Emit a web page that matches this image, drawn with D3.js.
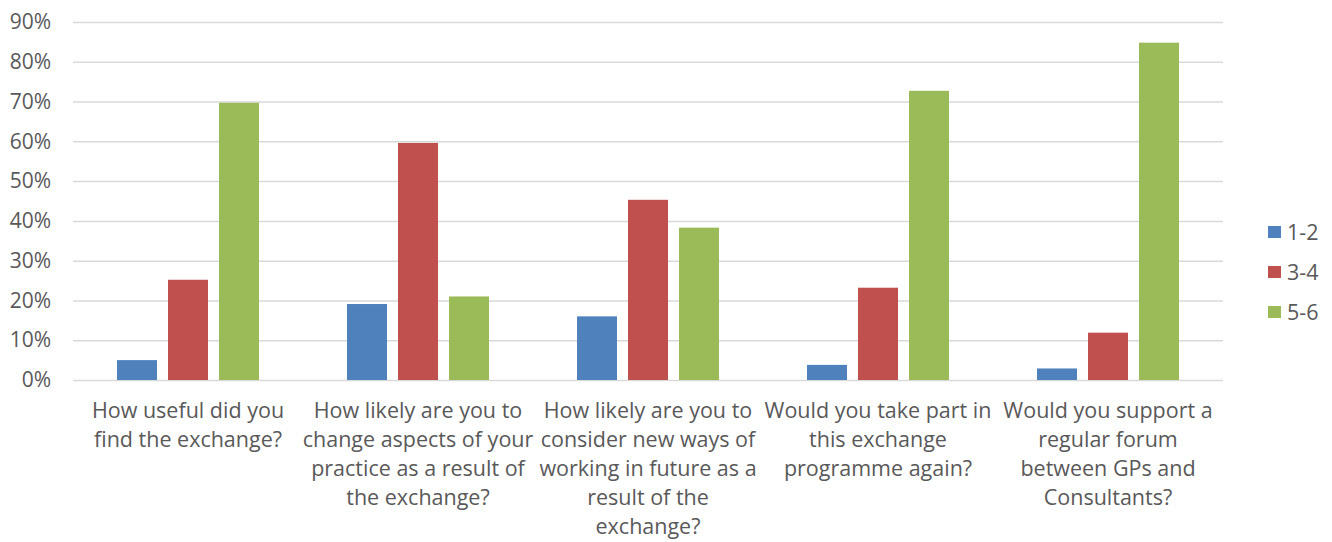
<!DOCTYPE html>
<html>
<head>
<meta charset="utf-8">
<script src="https://cdn.jsdelivr.net/npm/d3@7"></script>
<style>
  body { margin: 0; background: #fff; }
  text { font-family: "Open Sans", Lato, sans-serif; fill: #595959; }
</style>
</head>
<body>
<div id="chart"></div>
<script>
const questions = [
  ['How useful did you', 'find the exchange?'],
  ['How likely are you to', 'change aspects of your', 'practice as a result of', 'the exchange?'],
  ['How likely are you to', 'consider new ways of', 'working in future as a', 'result of the', 'exchange?'],
  ['Would you take part in', 'this exchange', 'programme again?'],
  ['Would you support a', 'regular forum', 'between GPs and', 'Consultants?']
];
const seriesNames = ['1-2', '3-4', '5-6'];
const seriesColors = ['#4f81bd', '#c0504d', '#9bbb59'];
const score12 = [5, 19.1, 16, 3.8, 2.9];
const score34 = [25.2, 59.6, 45.3, 23.2, 11.9];
const score56 = [69.7, 21, 38.3, 72.7, 84.8];
const yTicks = [0, 10, 20, 30, 40, 50, 60, 70, 80, 90];

const values = [score12, score34, score56];
const rows = questions.map((q, i) => ({ idx: i, lines: q, vals: values.map(v => v[i]) }));

const W = 1332, H = 542;
const margin = { top: 22, right: 109, bottom: 162, left: 73 };
const innerW = W - margin.left - margin.right;
const innerH = H - margin.top - margin.bottom;
const labelSize = 21.5;

const svg = d3.select('#chart').append('svg')
  .attr('width', W).attr('height', H);
const g = svg.append('g')
  .attr('transform', `translate(${margin.left},${margin.top})`);

const x0 = d3.scaleBand().domain(d3.range(questions.length)).range([0, innerW]);
const groupPad = 44;
const x1 = d3.scaleBand().domain(d3.range(seriesNames.length))
  .range([groupPad, x0.bandwidth() - groupPad]).paddingInner(0.216);
const y = d3.scaleLinear().domain([0, 90]).range([innerH, 0]);

// gridlines + y labels
g.append('g')
  .call(d3.axisLeft(y).tickValues(yTicks).tickSize(-innerW).tickFormat(d => d + '%'))
  .call(ax => ax.select('.domain').remove())
  .call(ax => ax.selectAll('line').attr('stroke', '#d9d9d9').attr('stroke-width', 1.5))
  .call(ax => ax.selectAll('text').attr('x', -22).attr('font-size', 21)
    .attr('font-family', '"Open Sans", sans-serif').style('fill', '#595959'));

// bars
const groups = g.selectAll('.grp').data(rows).enter().append('g')
  .attr('transform', d => `translate(${x0(d.idx)},0)`);
groups.selectAll('rect').data(d => d.vals).enter().append('rect')
  .attr('x', (d, i) => x1(i))
  .attr('y', d => y(d))
  .attr('width', x1.bandwidth())
  .attr('height', d => innerH - y(d))
  .attr('fill', (d, i) => seriesColors[i]);

// category labels
const lineH = 29;
groups.append('text')
  .attr('text-anchor', 'middle')
  .attr('font-size', labelSize)
  .selectAll('tspan').data(d => d.lines).enter().append('tspan')
  .attr('x', x0.bandwidth() / 2)
  .attr('y', (d, i) => innerH + 38 + i * lineH)
  .text(d => d);

// legend
const legend = svg.append('g').attr('transform', 'translate(1268,226)');
const li = legend.selectAll('g').data(seriesNames).enter().append('g')
  .attr('transform', (d, i) => `translate(0,${i * 40})`);
li.append('rect').attr('width', 13).attr('height', 12).attr('fill', (d, i) => seriesColors[i]);
li.append('text').attr('x', 19).attr('y', 6).attr('dy', '0.35em')
  .attr('font-size', labelSize).text(d => d);
</script>
</body>
</html>
